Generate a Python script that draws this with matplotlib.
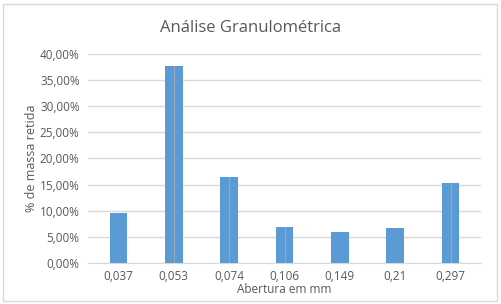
import matplotlib.pyplot as plt
from matplotlib.patches import Rectangle
from matplotlib.ticker import FuncFormatter

plt.rcParams['font.family'] = ['Open Sans', 'DejaVu Sans']

# aberturas (mm) e % de massa retida
aberturas = ['0,037', '0,053', '0,074', '0,106', '0,149', '0,21', '0,297']
retido = [9.6, 37.7, 16.5, 6.9, 5.9, 6.7, 15.3]
# bars that show a thin grey centre line in the original
linha_central = [False, True, True, True, False, False, True]

cor_barra = '#5B9BD5'
cor_texto = '#595959'
cor_grade = '#D9D9D9'

fig = plt.figure(figsize=(5.01, 3.04), dpi=100)
ax = fig.add_axes([88 / 501, 41 / 304, 393 / 501, 209 / 304])

x = list(range(len(aberturas)))
ax.bar(x, retido, width=0.32, color=cor_barra, zorder=3)
for xi, yi, lc in zip(x, retido, linha_central):
    if lc:
        ax.plot([xi, xi], [0, yi], color='#9AA7B3', lw=0.8, zorder=4)

ax.set_xlim(-0.55, len(aberturas) - 0.45)
ax.set_ylim(0, 40)
ax.set_yticks(range(0, 41, 5))
ax.yaxis.set_major_formatter(FuncFormatter(lambda v, p: f'{v:.2f}%'.replace('.', ',')))
ax.set_xticks(x)
ax.set_xticklabels(aberturas)
ax.grid(axis='y', color=cor_grade, lw=1, zorder=0)
for s in ['top', 'right', 'left']:
    ax.spines[s].set_visible(False)
ax.spines['bottom'].set_color(cor_grade)
ax.tick_params(axis='both', length=0, labelsize=8.5, colors=cor_texto)
ax.tick_params(axis='x', pad=5)
ax.tick_params(axis='y', pad=6)

ax.set_xlabel('Abertura em mm', fontsize=8.5, color=cor_texto, labelpad=0)
ax.set_ylabel('% de massa retida', fontsize=9, color=cor_texto, labelpad=1)
fig.text(0.5, 1 - 28 / 304, 'Análise Granulométrica', ha='center', va='center',
         fontsize=12, color=cor_texto)

fig.patches.append(Rectangle((3 / 501, 3 / 304), 494 / 501, 297 / 304, transform=fig.transFigure,
                             fill=False, edgecolor=cor_grade, lw=1))

fig.savefig('out.png', dpi=100)
